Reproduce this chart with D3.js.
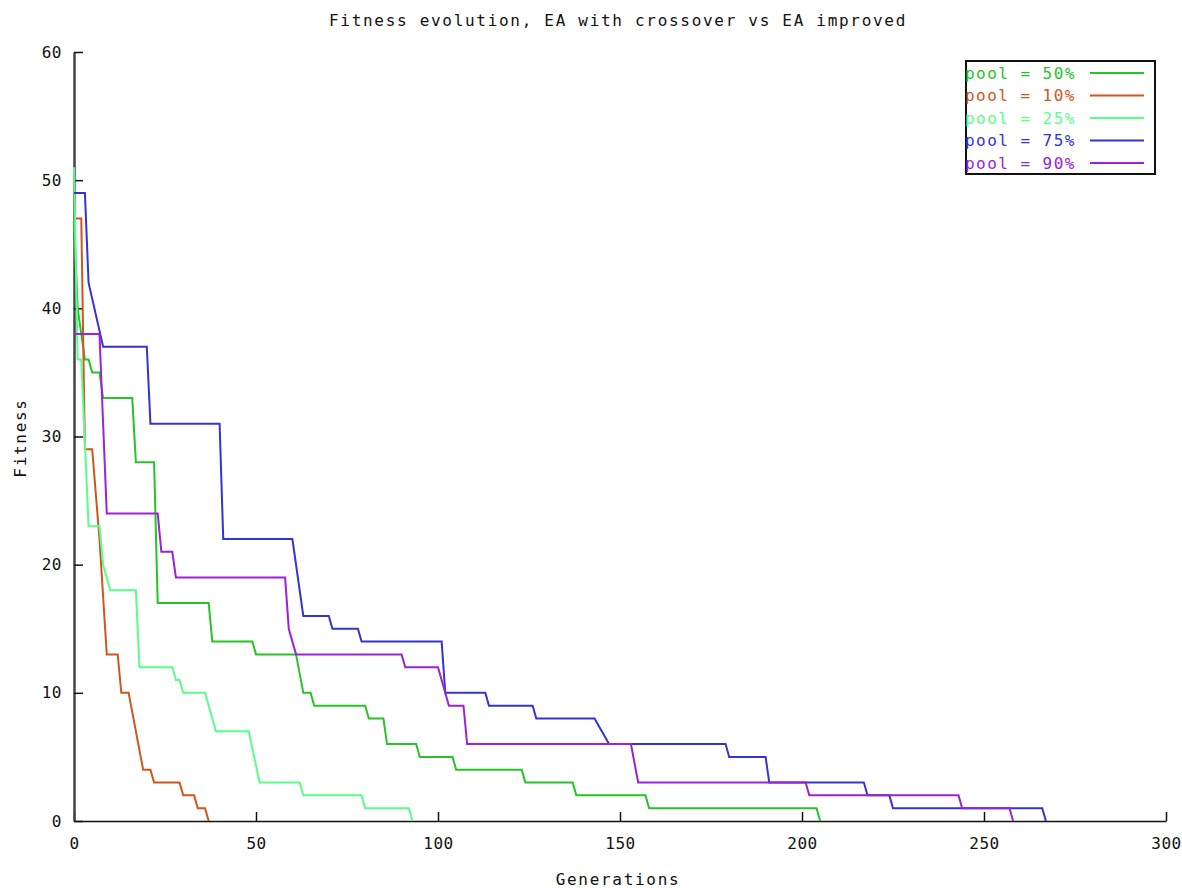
<!DOCTYPE html>
<html>
<head>
<meta charset="utf-8">
<script src="https://cdn.jsdelivr.net/npm/d3@7"></script>
<style>
  body { margin: 0; background: #fff; }
  text { font-family: "DejaVu Sans Mono", monospace; }
</style>
</head>
<body>
<div id="chart"></div>
<script>
// Data: [generation, fitness] vertices
const pool50 = [[0,47],[1,40],[3,36],[4,36],[5,35],[7,35],[8,33],[16,33],[17,28],[22,28],[23,17],
  [37,17],[38,14],[49,14],[50,13],[61,13],[63,10],[65,10],[66,9],[80,9],[81,8],[85,8],[86,6],
  [94,6],[95,5],[104,5],[105,4],[123,4],[124,3],[137,3],[138,2],[157,2],[158,1],[204,1],[205,0]];
const pool10 = [[0,47],[2,47],[3,29],[5,29],[7,22],[9,13],[12,13],[13,10],[15,10],[19,4],[21,4],
  [22,3],[29,3],[30,2],[33,2],[34,1],[36,1],[37,0]];
const pool25 = [[0,51],[1,36],[2,36],[4,23],[7,23],[8,20],[10,18],[17,18],[18,12],[27,12],[28,11],
  [29,11],[30,10],[36,10],[39,7],[48,7],[51,3],[62,3],[63,2],[79,2],[80,1],[92,1],[93,0]];
const pool75 = [[0,49],[3,49],[4,42],[8,37],[20,37],[21,31],[40,31],[41,22],[60,22],[63,16],[70,16],
  [71,15],[78,15],[79,14],[101,14],[102,10],[113,10],[114,9],[126,9],[127,8],[143,8],[147,6],
  [179,6],[180,5],[190,5],[191,3],[217,3],[218,2],[224,2],[225,1],[266,1],[267,0]];
const pool90 = [[0,38],[7,38],[8,31],[9,24],[23,24],[24,21],[27,21],[28,19],[58,19],[59,15],[61,13],
  [90,13],[91,12],[100,12],[103,9],[107,9],[108,6],[153,6],[155,3],[201,3],[202,2],[243,2],[244,1],
  [257,1],[258,0]];

const seriesNames = ["pool = 50%", "pool = 10%", "pool = 25%", "pool = 75%", "pool = 90%"];
const seriesData = [pool50, pool10, pool25, pool75, pool90];
const seriesColors = ["#26c426", "#d0561e", "#58ff8a", "#3434d0", "#9a22d8"];

const xTicks = [0, 50, 100, 150, 200, 250, 300];
const yTicks = [0, 10, 20, 30, 40, 50, 60];

// Dimensions
const width = 1182, height = 888;
const margin = { top: 52, right: 16, bottom: 67, left: 74 };
const innerW = width - margin.left - margin.right;
const innerH = height - margin.top - margin.bottom;

const svg = d3.select("#chart").append("svg")
  .attr("width", width)
  .attr("height", height);

const ctnr = svg.append("g")
  .attr("transform", `translate(${margin.left}, ${margin.top})`);

const xScale = d3.scaleLinear().domain([0, 300]).range([0, innerW]);
const yScale = d3.scaleLinear().domain([0, 60]).range([innerH, 0]);

// Axes (ticks point inward)
const xAxis = d3.axisBottom(xScale).tickValues(xTicks).tickSizeInner(-9).tickSizeOuter(0).tickPadding(17);
const xAxisGroup = ctnr.append("g")
  .attr("transform", `translate(0, ${innerH})`)
  .call(xAxis);

const yAxis = d3.axisLeft(yScale).tickValues(yTicks).tickSizeInner(-9).tickSizeOuter(0).tickPadding(12);
const yAxisGroup = ctnr.append("g").call(yAxis);

[xAxisGroup, yAxisGroup].forEach(g => {
  g.attr("font-family", "DejaVu Sans Mono").attr("font-size", 16);
  g.selectAll("text").attr("fill", "#111").style("letter-spacing", "0.5px");
  g.selectAll(".tick line").attr("stroke", "#111").attr("stroke-width", 1.5);
});
xAxisGroup.select(".domain").attr("stroke", "#111").attr("stroke-width", 1.5);
yAxisGroup.select(".domain").attr("stroke", "#444").attr("stroke-width", 2.5);

// Lines
const line = d3.line()
  .x(d => xScale(d[0]))
  .y(d => yScale(d[1]));

ctnr.selectAll("path.series")
  .data(seriesData)
  .join("path")
  .attr("class", "series")
  .attr("fill", "none")
  .attr("stroke", (d, i) => seriesColors[i])
  .attr("stroke-width", 2)
  .attr("d", line);

// Title and axis labels
svg.append("text")
  .attr("x", 618).attr("y", 26)
  .attr("text-anchor", "middle")
  .attr("font-size", 16)
  .style("letter-spacing", "1.7px")
  .attr("fill", "#111")
  .text("Fitness evolution, EA with crossover vs EA improved");

svg.append("text")
  .attr("x", 618).attr("y", 885)
  .attr("text-anchor", "middle")
  .attr("font-size", 16)
  .style("letter-spacing", "1.7px")
  .attr("fill", "#111")
  .text("Generations");

svg.append("text")
  .attr("transform", "translate(26, 438) rotate(-90)")
  .attr("text-anchor", "middle")
  .attr("font-size", 16)
  .style("letter-spacing", "1.7px")
  .attr("fill", "#111")
  .text("Fitness");

// Legend
const legend = svg.append("g");
legend.append("rect")
  .attr("x", 966).attr("y", 61)
  .attr("width", 189).attr("height", 113)
  .attr("fill", "none")
  .attr("stroke", "#111")
  .attr("stroke-width", 2);

const rowY = d3.scalePoint().domain(seriesNames).range([73, 163]);

const rows = legend.selectAll("g.row")
  .data(seriesNames)
  .join("g")
  .attr("class", "row")
  .attr("transform", d => `translate(0, ${rowY(d)})`);

rows.append("text")
  .attr("x", 965)
  .attr("dy", "0.35em")
  .attr("font-size", 16)
  .style("letter-spacing", "1.45px")
  .attr("fill", (d, i) => seriesColors[i])
  .text(d => d);

rows.append("line")
  .attr("x1", 1090).attr("x2", 1144)
  .attr("stroke", (d, i) => seriesColors[i])
  .attr("stroke-width", 2);
</script>
</body>
</html>
